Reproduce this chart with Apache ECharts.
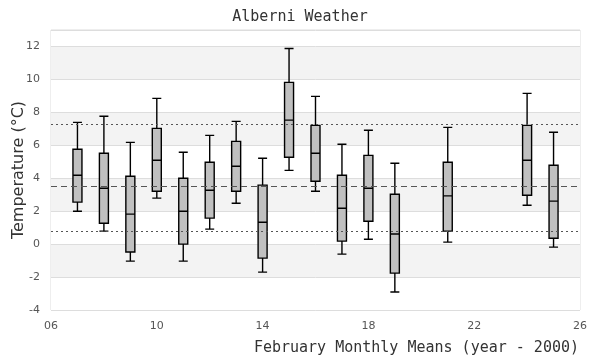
<!DOCTYPE html>
<html>
<head>
<meta charset="utf-8">
<script src="https://cdn.jsdelivr.net/npm/echarts@6/dist/echarts.min.js"></script>
<style>
html,body{margin:0;padding:0;background:#fff;}
#chart{width:600px;height:360px;}
</style>
</head>
<body>
<div id="chart"></div>
<script>
// Data (February monthly means, year - 2000)
var years   = [7, 8, 9, 10, 11, 12, 13, 14, 15, 16, 17, 18, 19, 21, 24, 25];
var mins    = [2.0, 0.79, -1.03, 2.79, -1.03, 0.91, 2.48, -1.70, 4.48, 3.21, -0.61, 0.30, -2.91, 0.12, 2.36, -0.18];
var q1s     = [2.55, 1.27, -0.48, 3.21, 0.0, 1.58, 3.21, -0.85, 5.27, 3.82, 0.18, 1.39, -1.76, 0.79, 2.97, 0.36];
var medians = [4.18, 3.39, 1.82, 5.09, 2.0, 3.27, 4.73, 1.33, 7.53, 5.52, 2.18, 3.39, 0.61, 2.93, 5.09, 2.61];
var q3s     = [5.76, 5.52, 4.12, 7.03, 4.0, 4.97, 6.24, 3.58, 9.82, 7.21, 4.18, 5.39, 3.03, 4.97, 7.21, 4.79];
var maxs    = [7.39, 7.76, 6.18, 8.85, 5.58, 6.60, 7.45, 5.21, 11.88, 8.97, 6.06, 6.91, 4.91, 7.09, 9.15, 6.79];
var refMean  = 3.53;
var refUpper = 7.27;
var refLower = 0.79;
var xTickLabelStep = 4;

var boxData = years.map(function (y, i) {
  return [y, mins[i], q1s[i], medians[i], q3s[i], maxs[i]];
});

var chart = echarts.init(document.getElementById('chart'), null, {renderer: 'canvas'});
chart.setOption({
  animation: false,
  backgroundColor: '#ffffff',
  title: [{
    text: 'Alberni Weather',
    left: 'center',
    top: 5,
    textStyle: {fontFamily: 'DejaVu Sans Mono', fontSize: 15, fontWeight: 'normal', color: '#333'}
  }, {
    text: 'February Monthly Means (year - 2000)',
    right: 21,
    top: 341,
    padding: 0,
    textStyle: {fontFamily: 'DejaVu Sans Mono', fontSize: 15, fontWeight: 'normal', color: '#333'}
  }],
  grid: {
    left: 51, right: 20, top: 30, bottom: 50,
    outerBoundsMode: 'none',
    containLabel: false,
    show: true, borderColor: '#dddddd', borderWidth: 1, backgroundColor: 'transparent'
  },
  xAxis: {
    type: 'value',
    min: 6, max: 26, interval: 2,
    axisLine: {show: false},
    axisTick: {show: false},
    splitLine: {show: false},
    axisLabel: {
      margin: 11,
      fontFamily: 'DejaVu Sans', fontSize: 11, color: '#555',
      formatter: function (v) {
        if ((v - 6) % xTickLabelStep !== 0) return '';
        return (v < 10 ? '0' : '') + v;
      }
    }
  },
  yAxis: {
    type: 'value',
    min: -4, max: 13, interval: 2,
    name: 'Temperature (°C)',
    nameLocation: 'middle',
    nameGap: 24,
    nameMoveOverlap: false,
    nameTextStyle: {fontFamily: 'DejaVu Sans', fontSize: 16, color: '#333'},
    axisLine: {show: false},
    axisTick: {show: false},
    axisLabel: {
      margin: 11, showMaxLabel: false,
      fontFamily: 'DejaVu Sans', fontSize: 11, color: '#555'
    },
    splitLine: {show: true, lineStyle: {color: '#dddddd', width: 1}},
    splitArea: {show: true, areaStyle: {color: ['#ffffff', '#f3f3f3']}}
  },
  series: [{
    type: 'boxplot',
    data: boxData,
    boxWidth: [9, 9],
    itemStyle: {color: '#c0c0c0', borderColor: '#000', borderWidth: 1.4},
    emphasis: {disabled: true},
    markLine: {
      silent: true,
      symbol: ['none', 'none'],
      label: {show: false},
      animation: false,
      data: [
        {yAxis: refUpper, lineStyle: {type: [2, 3], color: '#555', width: 1}},
        {yAxis: refMean, lineStyle: {type: [6, 4], color: '#555', width: 1}},
        {yAxis: refLower, lineStyle: {type: [2, 3], color: '#555', width: 1}}
      ]
    }
  }]
});
</script>
</body>
</html>
